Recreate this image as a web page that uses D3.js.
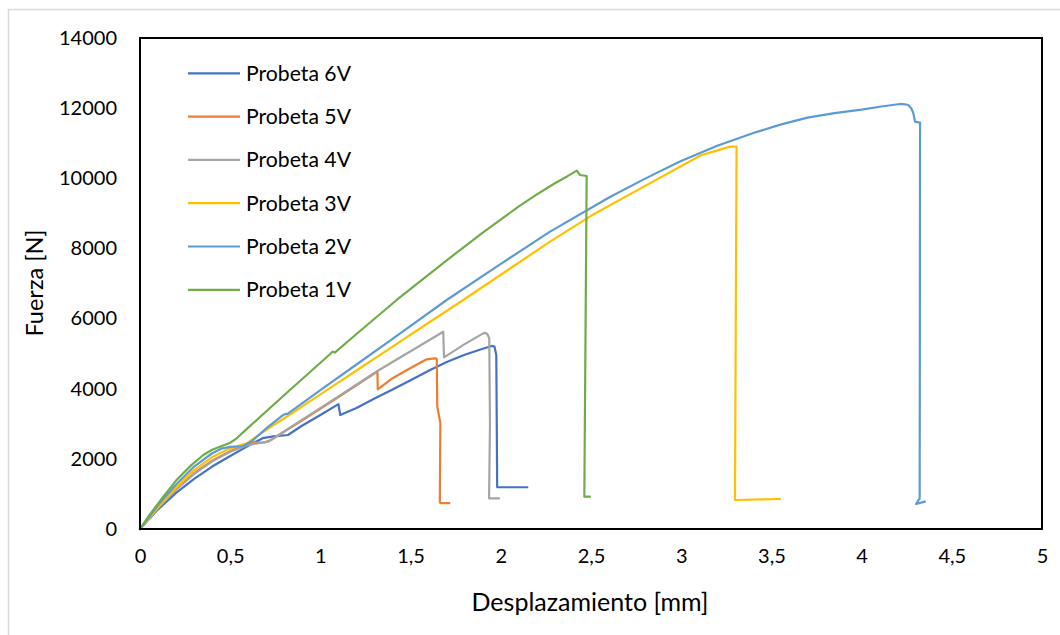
<!DOCTYPE html>
<html><head><meta charset="utf-8">
<script src="https://cdn.jsdelivr.net/npm/d3@7"></script>
<style>body{margin:0;background:#fff}svg{display:block}</style>
</head><body>
<svg id="c" width="1060" height="635"></svg>
<script>
// ---- data ----
const xTicks = [0, 0.5, 1, 1.5, 2, 2.5, 3, 3.5, 4, 4.5, 5];
const yTicks = [0, 2000, 4000, 6000, 8000, 10000, 12000, 14000];
const seriesNames = ["Probeta 6V", "Probeta 5V", "Probeta 4V", "Probeta 3V", "Probeta 2V", "Probeta 1V"];
const seriesColors = ["#4472C4", "#ED7D31", "#A5A5A5", "#FFC000", "#5B9BD5", "#70AD47"];

const p6V = [[0,0],[0.1,560],[0.2,1030],[0.3,1430],[0.4,1780],[0.5,2080],[0.6,2370],[0.68,2590],[0.74,2640],[0.82,2680],[0.9,2950],[1.0,3250],[1.1,3560],[1.11,3250],[1.2,3450],[1.3,3720],[1.4,3980],[1.5,4240],[1.6,4510],[1.7,4760],[1.8,4970],[1.9,5140],[1.95,5220],[1.965,5200],[1.975,4960],[1.98,1190],[2.147,1190]];
const p5V = [[0,0],[0.1,610],[0.2,1140],[0.3,1590],[0.4,1950],[0.5,2220],[0.6,2420],[0.63,2460],[0.69,2470],[0.72,2520],[0.9,3100],[1.1,3760],[1.316,4490],[1.318,3983],[1.4,4300],[1.5,4590],[1.589,4838],[1.635,4866],[1.645,4850],[1.648,3488],[1.665,3023],[1.662,779],[1.665,740],[1.715,740]];
const p4V = [[0,0],[0.1,600],[0.2,1120],[0.3,1570],[0.4,1930],[0.5,2200],[0.6,2400],[0.65,2440],[0.711,2489],[0.9,3120],[1.1,3780],[1.316,4505],[1.5,5070],[1.681,5626],[1.685,4895],[1.8,5270],[1.9,5570],[1.912,5598],[1.925,5560],[1.936,5437],[1.94,3000],[1.935,875],[1.99,875]];
const p3V = [[0,0],[0.1,620],[0.2,1180],[0.3,1680],[0.4,2050],[0.5,2300],[0.591,2443],[0.7,2830],[0.813,3202],[1.0,3840],[1.2,4520],[1.4,5200],[1.6,5880],[1.792,6530],[2.0,7250],[2.273,8193],[2.5,8930],[2.75,9640],[2.993,10331],[3.113,10664],[3.178,10759],[3.27,10902],[3.307,10902],[3.298,827],[3.548,855]];
const p2V = [[0,0],[0.1,680],[0.2,1270],[0.3,1780],[0.4,2160],[0.45,2290],[0.5,2340],[0.57,2360],[0.62,2500],[0.7,2870],[0.78,3200],[0.8,3270],[0.82,3290],[1.0,3960],[1.2,4690],[1.4,5420],[1.7,6530],[2.0,7560],[2.273,8478],[2.6,9450],[2.8,9990],[2.993,10480],[3.2,10930],[3.4,11290],[3.55,11530],[3.7,11730],[3.85,11860],[4.0,11960],[4.1,12040],[4.213,12119],[4.24,12110],[4.259,12090],[4.275,12000],[4.287,11854],[4.296,11614],[4.324,11585],[4.322,875],[4.302,713],[4.351,779]];
const p1V = [[0,0],[0.05,380],[0.129,921],[0.2,1380],[0.28,1800],[0.351,2110],[0.4,2260],[0.443,2347],[0.5,2460],[0.536,2586],[0.6,2890],[0.8,3820],[1.0,4740],[1.06,5020],[1.068,5056],[1.08,5030],[1.2,5560],[1.423,6530],[1.7,7660],[1.9,8450],[2.1,9200],[2.2,9540],[2.3,9860],[2.37,10060],[2.421,10217],[2.439,10094],[2.476,10066],[2.463,921],[2.494,921]];
const seriesData = [p6V, p5V, p4V, p3V, p2V, p1V];

// ---- layout ----
const svg = d3.select("#c");
const L = 140, R = 1042, T = 38, B = 529;
const x = d3.scaleLinear().domain([0, 5]).range([L, R]);
const y = d3.scaleLinear().domain([0, 14000]).range([B, T]);
const font = "Lato, 'Open Sans', sans-serif";

svg.append("rect").attr("x", 8.5).attr("y", 9.5).attr("width", 1070).attr("height", 640)
  .attr("fill", "#fff").attr("stroke", "#d9d9d9").attr("stroke-width", 1.5);

// axes (labels only)
const xAxis = svg.append("g").attr("transform", `translate(0,${B})`)
  .call(d3.axisBottom(x).tickValues(xTicks).tickSize(0).tickPadding(20)
    .tickFormat(d => String(d).replace(".", ",")));
const yAxis = svg.append("g").attr("transform", `translate(${L},0)`)
  .call(d3.axisLeft(y).tickValues(yTicks).tickSize(0).tickPadding(23).tickFormat(d => String(d)));
[xAxis, yAxis].forEach(g => {
  g.select(".domain").remove();
  g.selectAll("text").attr("font-family", font).attr("font-size", 20).attr("fill", "#000");
});

// series
const line = d3.line().x(d => x(d[0])).y(d => y(d[1])).curve(d3.curveMonotoneX);
const lineStraight = d3.line().x(d => x(d[0])).y(d => y(d[1]));
svg.append("g").selectAll("path").data(seriesData).join("path")
  .attr("d", lineStraight).attr("fill", "none")
  .attr("stroke", (d, i) => seriesColors[i]).attr("stroke-width", 2.2)
  .attr("stroke-linejoin", "round").attr("stroke-linecap", "round");

// plot border
svg.append("rect").attr("x", L).attr("y", T).attr("width", R - L).attr("height", B - T)
  .attr("fill", "none").attr("stroke", "#000").attr("stroke-width", 2);

// legend
const lg = svg.append("g");
seriesNames.forEach((n, i) => {
  const yy = 73.3 + i * 43.3;
  lg.append("line").attr("x1", 188).attr("x2", 240).attr("y1", yy).attr("y2", yy)
    .attr("stroke", seriesColors[i]).attr("stroke-width", 2.2);
  lg.append("text").attr("x", 246).attr("y", yy).attr("dy", "0.35em")
    .attr("font-family", font).attr("font-size", 21.2).text(n);
});

// titles
svg.append("text").attr("x", 590).attr("y", 602).attr("dy", "0.35em").attr("text-anchor", "middle")
  .attr("font-family", font).attr("font-size", 25).text("Desplazamiento [mm]");
svg.append("text").attr("transform", "translate(35,283) rotate(-90)").attr("dy", "0.35em")
  .attr("text-anchor", "middle").attr("font-family", font).attr("font-size", 23.5).text("Fuerza [N]");
</script>
</body></html>
